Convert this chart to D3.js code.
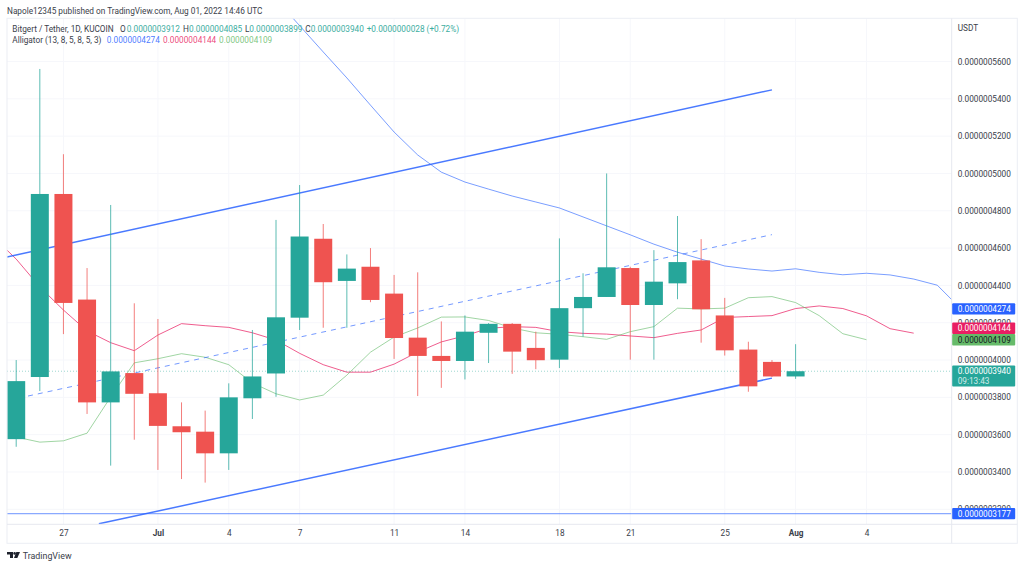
<!DOCTYPE html>
<html><head><meta charset="utf-8">
<script src="https://cdnjs.cloudflare.com/ajax/libs/d3/7.8.5/d3.min.js"></script>
<style>
html,body{margin:0;padding:0;background:#fff}
svg{display:block;font-family:Roboto,sans-serif}
.axis path,.axis line{display:none}
.axis text{fill:#3a3e4a;font-size:8.25px;font-family:Roboto,sans-serif}
</style></head><body><svg id="c" width="1024" height="567"></svg>
<script>
// prices in units of 1e-10 USDT
const opens =[3576,3909,4890,4324,3773,3930,3822,3645,3616,3500,3795,3928,4227,4650,4424,4500,4356,4120,4022,3995,4146,4194,4065,4002,4278,4338,4493,4295,4411,4534,4239,4056,3990,3912];
const highs =[4000,5560,5103,4493,4831,4304,4220,3773,3729,3875,4161,4751,4938,4729,4566,4600,4456,4470,4207,4239,4198,4198,4152,4652,4465,5000,4500,4589,4772,4648,4333,4098,4000,4085];
const lows  =[3535,3834,4139,3711,3434,3573,3411,3362,3343,3411,3684,3803,4161,4173,4173,4310,4006,3807,3851,3896,3984,3926,3951,3957,4125,4338,4002,4002,4326,4093,4024,3830,3909,3899];
const closes=[3887,4890,4306,3773,3939,3819,3647,3613,3500,3800,3912,4229,4662,4417,4490,4322,4118,4022,3995,4152,4194,4045,3999,4278,4338,4497,4295,4420,4525,4272,4052,3859,3912,3940];
const jawStart=11;
const jaw=[5934,5792,5651,5512,5366,5222,5099,5007,4954,4916,4879,4847,4815,4767,4719,4671,4621,4578,4541,4504,4488,4477,4489,4470,4457,4465,4456,4434,4401,4274];
const teethStart=-1;
const teeth=[4664,4541,4392,4268,4156,4093,4050,4134,4195,4184,4175,4146,4107,4036,3975,3935,3935,3978,4043,4097,4130,4170,4179,4175,4152,4143,4139,4129,4120,4143,4161,4228,4233,4238,4276,4290,4276,4237,4168,4144];
const lipsStart=0;
const lips=[3587,3560,3567,3608,3802,3985,4007,4034,4015,3975,3877,3819,3786,3812,3919,4042,4123,4172,4230,4231,4212,4172,4146,4138,4125,4111,4152,4179,4278,4274,4278,4334,4340,4308,4238,4141,4109];
const upperTrend=[[-0.4,4552],[32,5448]];
const lowerTrend=[[3.5,3122],[32,3903]];
const midTrend=[[0.5,3807],[32,4672]];
const hLevel=3177;
const lastPrice=3940;
const priceTicks=[3200,3400,3600,3800,4000,4200,4400,4600,4800,5000,5200,5400,5600];
const timeTickIndex=[2,6,9,12,16,19,23,26,30,33,36];
const timeTickLabels=["27","Jul","4","7","11","14","18","21","25","Aug","4"];
const boldTicks=["Jul","Aug"];
const fmt=v=>(v*1e-10).toFixed(10);

const L=7,R=951.7,T=18.3,B=524.3,OR=1017.3,OB=543.3;
const FS=8.25;
const x=d3.scaleLinear().domain([0,33]).range([16.2,795.6]);
const y=d3.scaleLinear().domain([3200,5600]).range([509.3,61.5]);
const UP="#26a69a",DN="#ef5350",BLUE="#2962ff",PINK="#e91e63",GREEN="#66bb6a";
const svg=d3.select("#c");
svg.append("defs").append("clipPath").attr("id","p").append("rect")
  .attr("x",L).attr("y",T).attr("width",R-L).attr("height",B-T);

// grid
const grid=svg.append("g").attr("stroke","#f6f7fb").attr("stroke-width",1);
priceTicks.forEach(v=>grid.append("line").attr("x1",L).attr("x2",R).attr("y1",y(v)).attr("y2",y(v)));
timeTickIndex.forEach(i=>grid.append("line").attr("x1",x(i)).attr("x2",x(i)).attr("y1",T).attr("y2",B));

const plot=svg.append("g").attr("clip-path","url(#p)");
const ln=d3.line().x(d=>x(d[0])).y(d=>y(d[1]));
const series=(arr,s)=>arr.map((v,i)=>[i+s,v]);

// last price dotted line
plot.append("line").attr("x1",L).attr("x2",R).attr("y1",y(lastPrice)).attr("y2",y(lastPrice))
  .attr("stroke",UP).attr("stroke-opacity",.45).attr("stroke-dasharray","1 2");

// alligator
[[jaw,jawStart,BLUE,.62],[teeth,teethStart,PINK,.72],[lips,lipsStart,GREEN,.62]].forEach(([a,s,c,o])=>
  plot.append("path").attr("d",ln(series(a,s))).attr("fill","none").attr("stroke",c).attr("stroke-opacity",o).attr("stroke-width",1));

// drawings
[upperTrend,lowerTrend].forEach(t=>plot.append("path").attr("d",ln(t)).attr("fill","none").attr("stroke",BLUE).attr("stroke-opacity",.85).attr("stroke-width",1.5));
plot.append("path").attr("d",ln(midTrend)).attr("fill","none").attr("stroke",BLUE).attr("stroke-opacity",.65).attr("stroke-width",1).attr("stroke-dasharray","5 5");
plot.append("line").attr("x1",L).attr("x2",R).attr("y1",y(hLevel)).attr("y2",y(hLevel)).attr("stroke",BLUE).attr("stroke-opacity",.55).attr("stroke-width",1.2);

// candles
const bw=18;
const idx=d3.range(opens.length);
const col=i=>closes[i]>=opens[i]?UP:DN;
plot.selectAll(".w").data(idx).join("line").attr("class","w")
  .attr("x1",i=>x(i)).attr("x2",i=>x(i)).attr("y1",i=>y(highs[i])).attr("y2",i=>y(lows[i]))
  .attr("stroke",col).attr("stroke-opacity",.75).attr("stroke-width",1);
plot.selectAll(".b").data(idx).join("rect").attr("class","b")
  .attr("x",i=>x(i)-bw/2).attr("width",bw)
  .attr("y",i=>y(Math.max(opens[i],closes[i])))
  .attr("height",i=>Math.max(1,Math.abs(y(opens[i])-y(closes[i]))))
  .attr("fill",col);

// frame
const frame=svg.append("g").attr("fill","none").attr("stroke","#eceef4");
frame.append("rect").attr("x",L).attr("y",T).attr("width",OR-L).attr("height",OB-T);
frame.append("line").attr("x1",L).attr("x2",OR).attr("y1",B).attr("y2",B).attr("stroke","#e6e8ef");
frame.append("line").attr("x1",R).attr("x2",R).attr("y1",T).attr("y2",OB).attr("stroke","#e6e8ef");

// axes
const yAxis=d3.axisRight(y).tickValues(priceTicks).tickFormat(fmt).tickSize(0).tickPadding(6);
svg.append("g").attr("class","axis").attr("transform",`translate(${R},0)`).call(yAxis);
const xAxis=d3.axisBottom(x).tickValues(timeTickIndex).tickFormat((d,i)=>timeTickLabels[i]).tickSize(0).tickPadding(6);
const xg=svg.append("g").attr("class","axis").attr("transform",`translate(0,${B})`).call(xAxis);
xg.selectAll("text").style("font-weight",(d,i)=>boldTicks.includes(timeTickLabels[i])?700:400);

svg.append("text").attr("x",R+6).attr("y",30.5).attr("font-size",FS).attr("fill","#3a3e4a").text("USDT");

// price labels
const H=11.4;
const labels=[
 {v:jaw[jaw.length-1],c:BLUE,t:"#fff"},
 {v:teeth[teeth.length-1],c:PINK,t:"#fff"},
 {v:lips[lips.length-1],c:GREEN,t:"#131722"},
 {v:hLevel,c:BLUE,t:"#fff"}
];
labels.forEach(l=>l.cy=y(l.v));
labels.sort((a,b)=>a.cy-b.cy);
for(let i=labels.length-2;i>=0;i--){ if(labels[i].cy+H>labels[i+1].cy) labels[i].cy=labels[i+1].cy-H; }
const lg=svg.append("g");
labels.forEach(l=>{
  lg.append("rect").attr("x",R+.5).attr("y",l.cy-H/2).attr("width",63).attr("height",H).attr("rx",1).attr("fill",l.c);
  lg.append("text").attr("x",R+6).attr("y",l.cy+3).attr("font-size",FS).attr("fill",l.t).text(fmt(l.v));
});
const ly=y(lastPrice);
lg.append("rect").attr("x",R+.5).attr("y",ly-5.8).attr("width",63).attr("height",21).attr("rx",1).attr("fill",UP);
lg.append("text").attr("x",R+6).attr("y",ly+3).attr("font-size",FS).attr("fill","#fff").text(fmt(lastPrice));
lg.append("text").attr("x",R+6).attr("y",ly+12.4).attr("font-size",FS).attr("fill","#fff").attr("fill-opacity",.8).text("09:13:43");

// header and legend
svg.append("text").attr("x",7).attr("y",13.5).attr("font-size",FS).attr("fill","#3a3e4a")
  .text("Napole12345 published on TradingView.com, Aug 01, 2022 14:46 UTC");
const TX="#3a3e4a",VAL="#3dae9f";
const leg1=[["Bitgert / Tether, 1D, KUCOIN",TX,12.3],["O",TX,120],["0.0000003912",VAL,126.7],["H",TX,183],["0.0000004085",VAL,189],
 ["L",TX,245],["0.0000003899",VAL,249.3],["C",TX,305.3],["0.0000003940",VAL,310.7],["+0.0000000028 (+0.72%)",VAL,366.7]];
leg1.forEach(([s,c,px])=>svg.append("text").attr("x",px).attr("y",32).attr("font-size",FS).attr("fill",c).text(s));
const leg2=[["Alligator (13, 8, 5, 8, 5, 3)",TX,12.3],[fmt(jaw[jaw.length-1]),BLUE,106.7],[fmt(teeth[teeth.length-1]),PINK,163],[fmt(lips[lips.length-1]),GREEN,219]];
leg2.forEach(([s,c,px])=>svg.append("text").attr("x",px).attr("y",43).attr("font-size",FS).attr("fill",c).attr("fill-opacity",c===TX?1:.85).text(s));

// logo
const logo=svg.append("g").attr("fill","#1e222d");
logo.append("path").attr("d","M7 552H13V558H10V554.6H7Z");
logo.append("circle").attr("cx",14.6).attr("cy",553.4).attr("r",1.3);
logo.append("path").attr("d","M16.3 552H20L17.3 558H14Z");
svg.append("text").attr("x",22.7).attr("y",559).attr("font-size",8.9).attr("fill","#3a3e4a").text("TradingView");
</script></body></html>
